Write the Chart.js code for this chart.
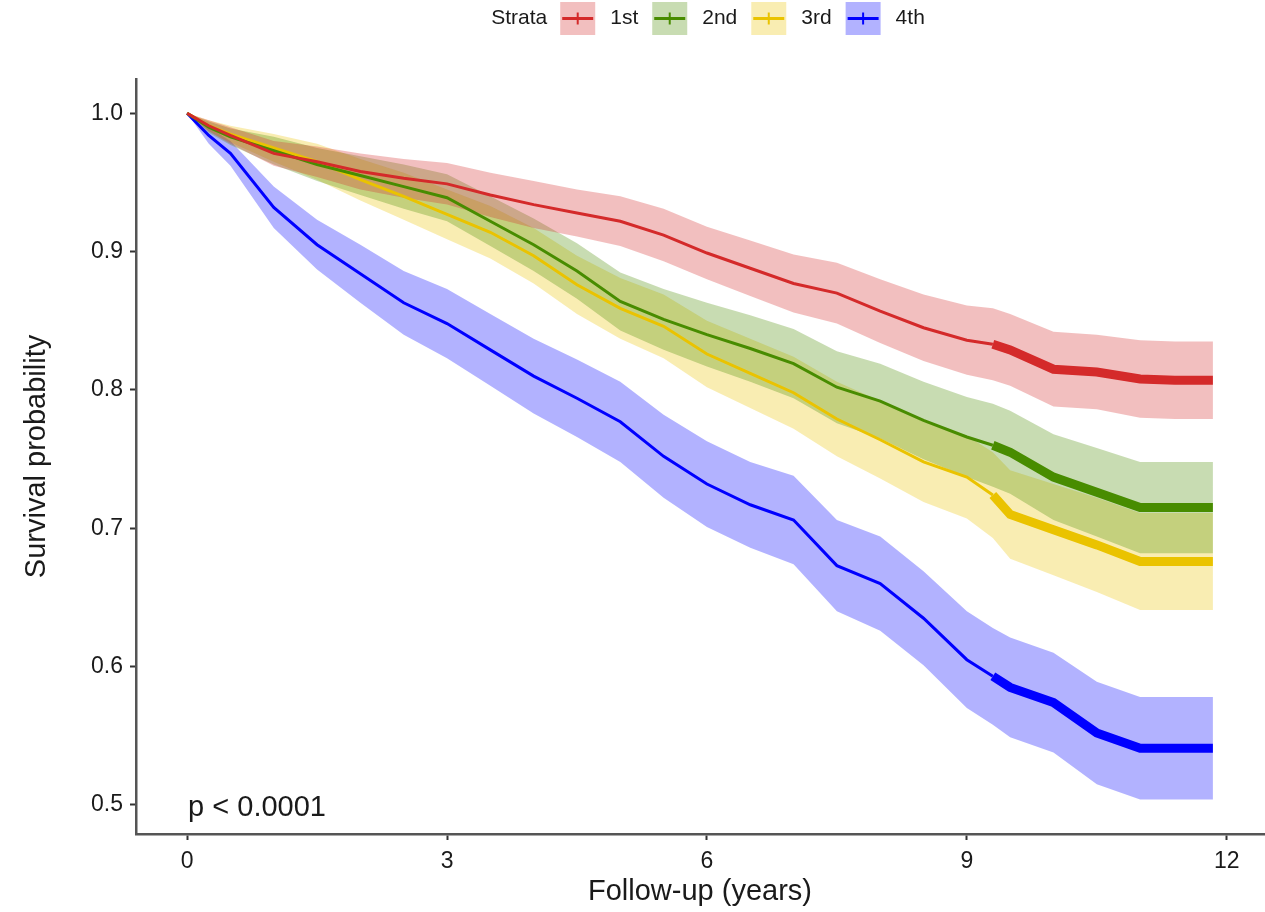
<!DOCTYPE html>
<html>
<head>
<meta charset="utf-8">
<title>Survival by strata</title>
<script src="https://cdn.jsdelivr.net/npm/chart.js@4.4.1/dist/chart.umd.min.js"></script>
<style>
  body { margin: 0; background: #fff; }
  canvas { display: block; }
</style>
</head>
<body>
<canvas id="kmChart" width="1265" height="912"></canvas>
<script>
// follow-up times (years) at which each curve is sampled
var years = [0, 0.25, 0.5, 1, 1.5, 2, 2.5, 3, 3.5, 4, 4.5, 5, 5.5, 6, 6.5, 7, 7.5, 8, 8.5, 9, 9.3, 9.5, 10, 10.5, 11, 11.4, 11.84];
var strata = ['1st', '2nd', '3rd', '4th'];

var surv1st  = [1.0, 0.991, 0.984, 0.971, 0.965, 0.958, 0.953, 0.949, 0.941, 0.934, 0.928, 0.922, 0.912, 0.899, 0.888, 0.877, 0.870, 0.857, 0.845, 0.836, 0.833, 0.829, 0.815, 0.813, 0.808, 0.807, 0.807];
var lower1st = [1.0, 0.987, 0.978, 0.962, 0.954, 0.945, 0.939, 0.934, 0.925, 0.917, 0.911, 0.904, 0.893, 0.880, 0.868, 0.856, 0.848, 0.834, 0.821, 0.811, 0.807, 0.803, 0.788, 0.786, 0.780, 0.779, 0.779];
var upper1st = [1.0, 0.995, 0.990, 0.980, 0.976, 0.971, 0.967, 0.964, 0.957, 0.951, 0.945, 0.940, 0.931, 0.918, 0.908, 0.898, 0.892, 0.880, 0.869, 0.861, 0.859, 0.855, 0.842, 0.840, 0.836, 0.835, 0.835];

var surv2nd  = [1.0, 0.990, 0.983, 0.973, 0.963, 0.955, 0.947, 0.939, 0.922, 0.905, 0.886, 0.864, 0.851, 0.840, 0.830, 0.819, 0.802, 0.792, 0.778, 0.766, 0.760, 0.755, 0.737, 0.726, 0.715, 0.715, 0.715];
var lower2nd = [1.0, 0.986, 0.977, 0.963, 0.951, 0.941, 0.931, 0.922, 0.904, 0.886, 0.866, 0.843, 0.829, 0.817, 0.806, 0.794, 0.776, 0.765, 0.750, 0.737, 0.730, 0.725, 0.706, 0.694, 0.682, 0.682, 0.682];
var upper2nd = [1.0, 0.994, 0.989, 0.983, 0.975, 0.969, 0.963, 0.956, 0.940, 0.924, 0.906, 0.885, 0.873, 0.863, 0.854, 0.844, 0.828, 0.819, 0.806, 0.795, 0.790, 0.785, 0.768, 0.758, 0.748, 0.748, 0.748];

var surv3rd  = [1.0, 0.991, 0.985, 0.975, 0.965, 0.952, 0.940, 0.927, 0.914, 0.897, 0.876, 0.859, 0.846, 0.826, 0.812, 0.798, 0.779, 0.764, 0.748, 0.737, 0.724, 0.710, 0.699, 0.688, 0.676, 0.676, 0.676];
var lower3rd = [1.0, 0.987, 0.979, 0.965, 0.952, 0.937, 0.923, 0.909, 0.895, 0.877, 0.855, 0.837, 0.823, 0.802, 0.787, 0.772, 0.752, 0.736, 0.719, 0.707, 0.693, 0.678, 0.666, 0.654, 0.641, 0.641, 0.641];
var upper3rd = [1.0, 0.995, 0.991, 0.985, 0.978, 0.967, 0.957, 0.945, 0.933, 0.917, 0.897, 0.881, 0.869, 0.850, 0.837, 0.824, 0.806, 0.792, 0.777, 0.767, 0.755, 0.742, 0.732, 0.722, 0.711, 0.711, 0.711];

var surv4th  = [1.0, 0.984, 0.971, 0.932, 0.905, 0.884, 0.863, 0.848, 0.829, 0.810, 0.794, 0.777, 0.752, 0.732, 0.717, 0.706, 0.673, 0.660, 0.635, 0.605, 0.593, 0.585, 0.574, 0.552, 0.541, 0.541, 0.541];
var lower4th = [1.0, 0.978, 0.962, 0.917, 0.887, 0.863, 0.840, 0.823, 0.803, 0.783, 0.766, 0.748, 0.722, 0.701, 0.686, 0.674, 0.640, 0.626, 0.601, 0.570, 0.558, 0.549, 0.538, 0.515, 0.504, 0.504, 0.504];
var upper4th = [1.0, 0.990, 0.980, 0.947, 0.923, 0.905, 0.886, 0.873, 0.855, 0.837, 0.822, 0.806, 0.782, 0.763, 0.748, 0.738, 0.706, 0.694, 0.669, 0.640, 0.628, 0.621, 0.610, 0.589, 0.578, 0.578, 0.578];

var xTicks = [0, 3, 6, 9, 12];
var yTicks = [0.5, 0.6, 0.7, 0.8, 0.9, 1.0];
var censorFrom = 9.3;   // dense censoring marks from here on
var pLabel = 'p < 0.0001';

var lineColors = ['#D42A2A', '#488C00', '#EAC300', '#0000FF'];
var bandColors = ['rgba(212,42,42,0.3)', 'rgba(72,140,0,0.3)', 'rgba(234,195,0,0.3)', 'rgba(0,0,255,0.3)'];

var survAll = [surv1st, surv2nd, surv3rd, surv4th];
var lowerAll = [lower1st, lower2nd, lower3rd, lower4th];
var upperAll = [upper1st, upper2nd, upper3rd, upper4th];

function toPoints(values) {
    return years.map(function (t, i) { return {x: t, y: values[i]}; });
}

var datasets = [];
strata.forEach(function (name, i) {
    datasets.push({
        label: name + ' lower',
        data: toPoints(lowerAll[i]),
        borderWidth: 0,
        pointRadius: 0,
        fill: false,
        order: 2
    });
    datasets.push({
        label: name + ' upper',
        data: toPoints(upperAll[i]),
        borderWidth: 0,
        pointRadius: 0,
        backgroundColor: bandColors[i],
        fill: '-1',
        order: 2
    });
    datasets.push({
        label: name,
        data: toPoints(survAll[i]),
        borderColor: lineColors[i],
        borderWidth: 3,
        pointRadius: 0,
        fill: false,
        order: 1,
        segment: {
            borderWidth: function (ctx) { return ctx.p0.parsed.x >= censorFrom ? 9 : 3; }
        }
    });
});

var textColor = '#1a1a1a';
Chart.defaults.font.family = '"Liberation Sans", Arial, sans-serif';

// legend drawn inline: "Strata" followed by the four keys
var strataLegend = {
    id: 'strataLegend',
    afterDraw: function (chart) {
        var ctx = chart.ctx;
        var boxW = 35, boxH = 33, cy = 18.5;
        ctx.save();
        ctx.font = '21px "Liberation Sans", Arial, sans-serif';
        ctx.textBaseline = 'middle';
        var total = ctx.measureText('Strata').width + 13;
        strata.forEach(function (s, i) {
            total += boxW + 15 + ctx.measureText(s).width + (i < strata.length - 1 ? 14 : 0);
        });
        var x = (chart.chartArea.left + chart.chartArea.right) / 2 + 8 - total / 2;
        ctx.fillStyle = textColor;
        ctx.fillText('Strata', x, cy);
        x += ctx.measureText('Strata').width + 13;
        strata.forEach(function (s, i) {
            ctx.fillStyle = bandColors[i];
            ctx.fillRect(x, cy - boxH / 2, boxW, boxH);
            ctx.strokeStyle = lineColors[i];
            ctx.lineWidth = 3;
            ctx.beginPath();
            ctx.moveTo(x + 2, cy);
            ctx.lineTo(x + boxW - 2, cy);
            ctx.stroke();
            ctx.lineWidth = 2;
            ctx.beginPath();
            ctx.moveTo(x + boxW / 2, cy - 6);
            ctx.lineTo(x + boxW / 2, cy + 6);
            ctx.stroke();
            x += boxW + 15;
            ctx.fillStyle = textColor;
            ctx.fillText(s, x, cy);
            x += ctx.measureText(s).width + 14;
        });
        ctx.restore();
    }
};

var pValueText = {
    id: 'pValueText',
    afterDatasetsDraw: function (chart) {
        var ctx = chart.ctx;
        ctx.save();
        ctx.font = '29px "Liberation Sans", Arial, sans-serif';
        ctx.fillStyle = textColor;
        ctx.textBaseline = 'alphabetic';
        ctx.fillText(pLabel, chart.scales.x.getPixelForValue(0) + 1, chart.scales.y.getPixelForValue(0.5) + 11);
        ctx.restore();
    }
};

new Chart(document.getElementById('kmChart'), {
    type: 'line',
    data: {datasets: datasets},
    plugins: [strataLegend, pValueText],
    options: {
        responsive: false,
        animation: false,
        devicePixelRatio: 1,
        layout: {padding: {top: 79, right: 1, left: 0, bottom: 0}},
        plugins: {
            legend: {display: false},
            tooltip: {enabled: false}
        },
        scales: {
            x: {
                type: 'linear',
                min: -0.59,
                max: 12.43,
                afterBuildTicks: function (scale) {
                    scale.ticks = xTicks.map(function (v) { return {value: v}; });
                },
                afterFit: function (scale) { scale.height = 78; },
                grid: {drawOnChartArea: false, drawTicks: true, tickLength: 6, tickColor: '#333', tickWidth: 2},
                border: {display: true, color: '#555', width: 2.5},
                ticks: {autoSkip: false, maxRotation: 0, padding: 8, color: textColor, font: {size: 23}},
                title: {display: true, text: 'Follow-up (years)', color: textColor, font: {size: 29}, padding: {top: 0, bottom: 3}}
            },
            y: {
                type: 'linear',
                min: 0.479,
                max: 1.0248,
                afterBuildTicks: function (scale) {
                    scale.ticks = yTicks.map(function (v) { return {value: v}; });
                },
                afterFit: function (scale) { scale.width = 136; },
                grid: {drawOnChartArea: false, drawTicks: true, tickLength: 6, tickColor: '#333', tickWidth: 2},
                border: {display: true, color: '#555', width: 2.5},
                ticks: {
                    autoSkip: false,
                    padding: 7,
                    color: textColor,
                    font: {size: 23},
                    callback: function (v) { return v.toFixed(1); }
                },
                title: {display: true, text: 'Survival probability', color: textColor, font: {size: 29}, padding: {top: 20, bottom: 0}}
            }
        }
    }
});
</script>
</body>
</html>
